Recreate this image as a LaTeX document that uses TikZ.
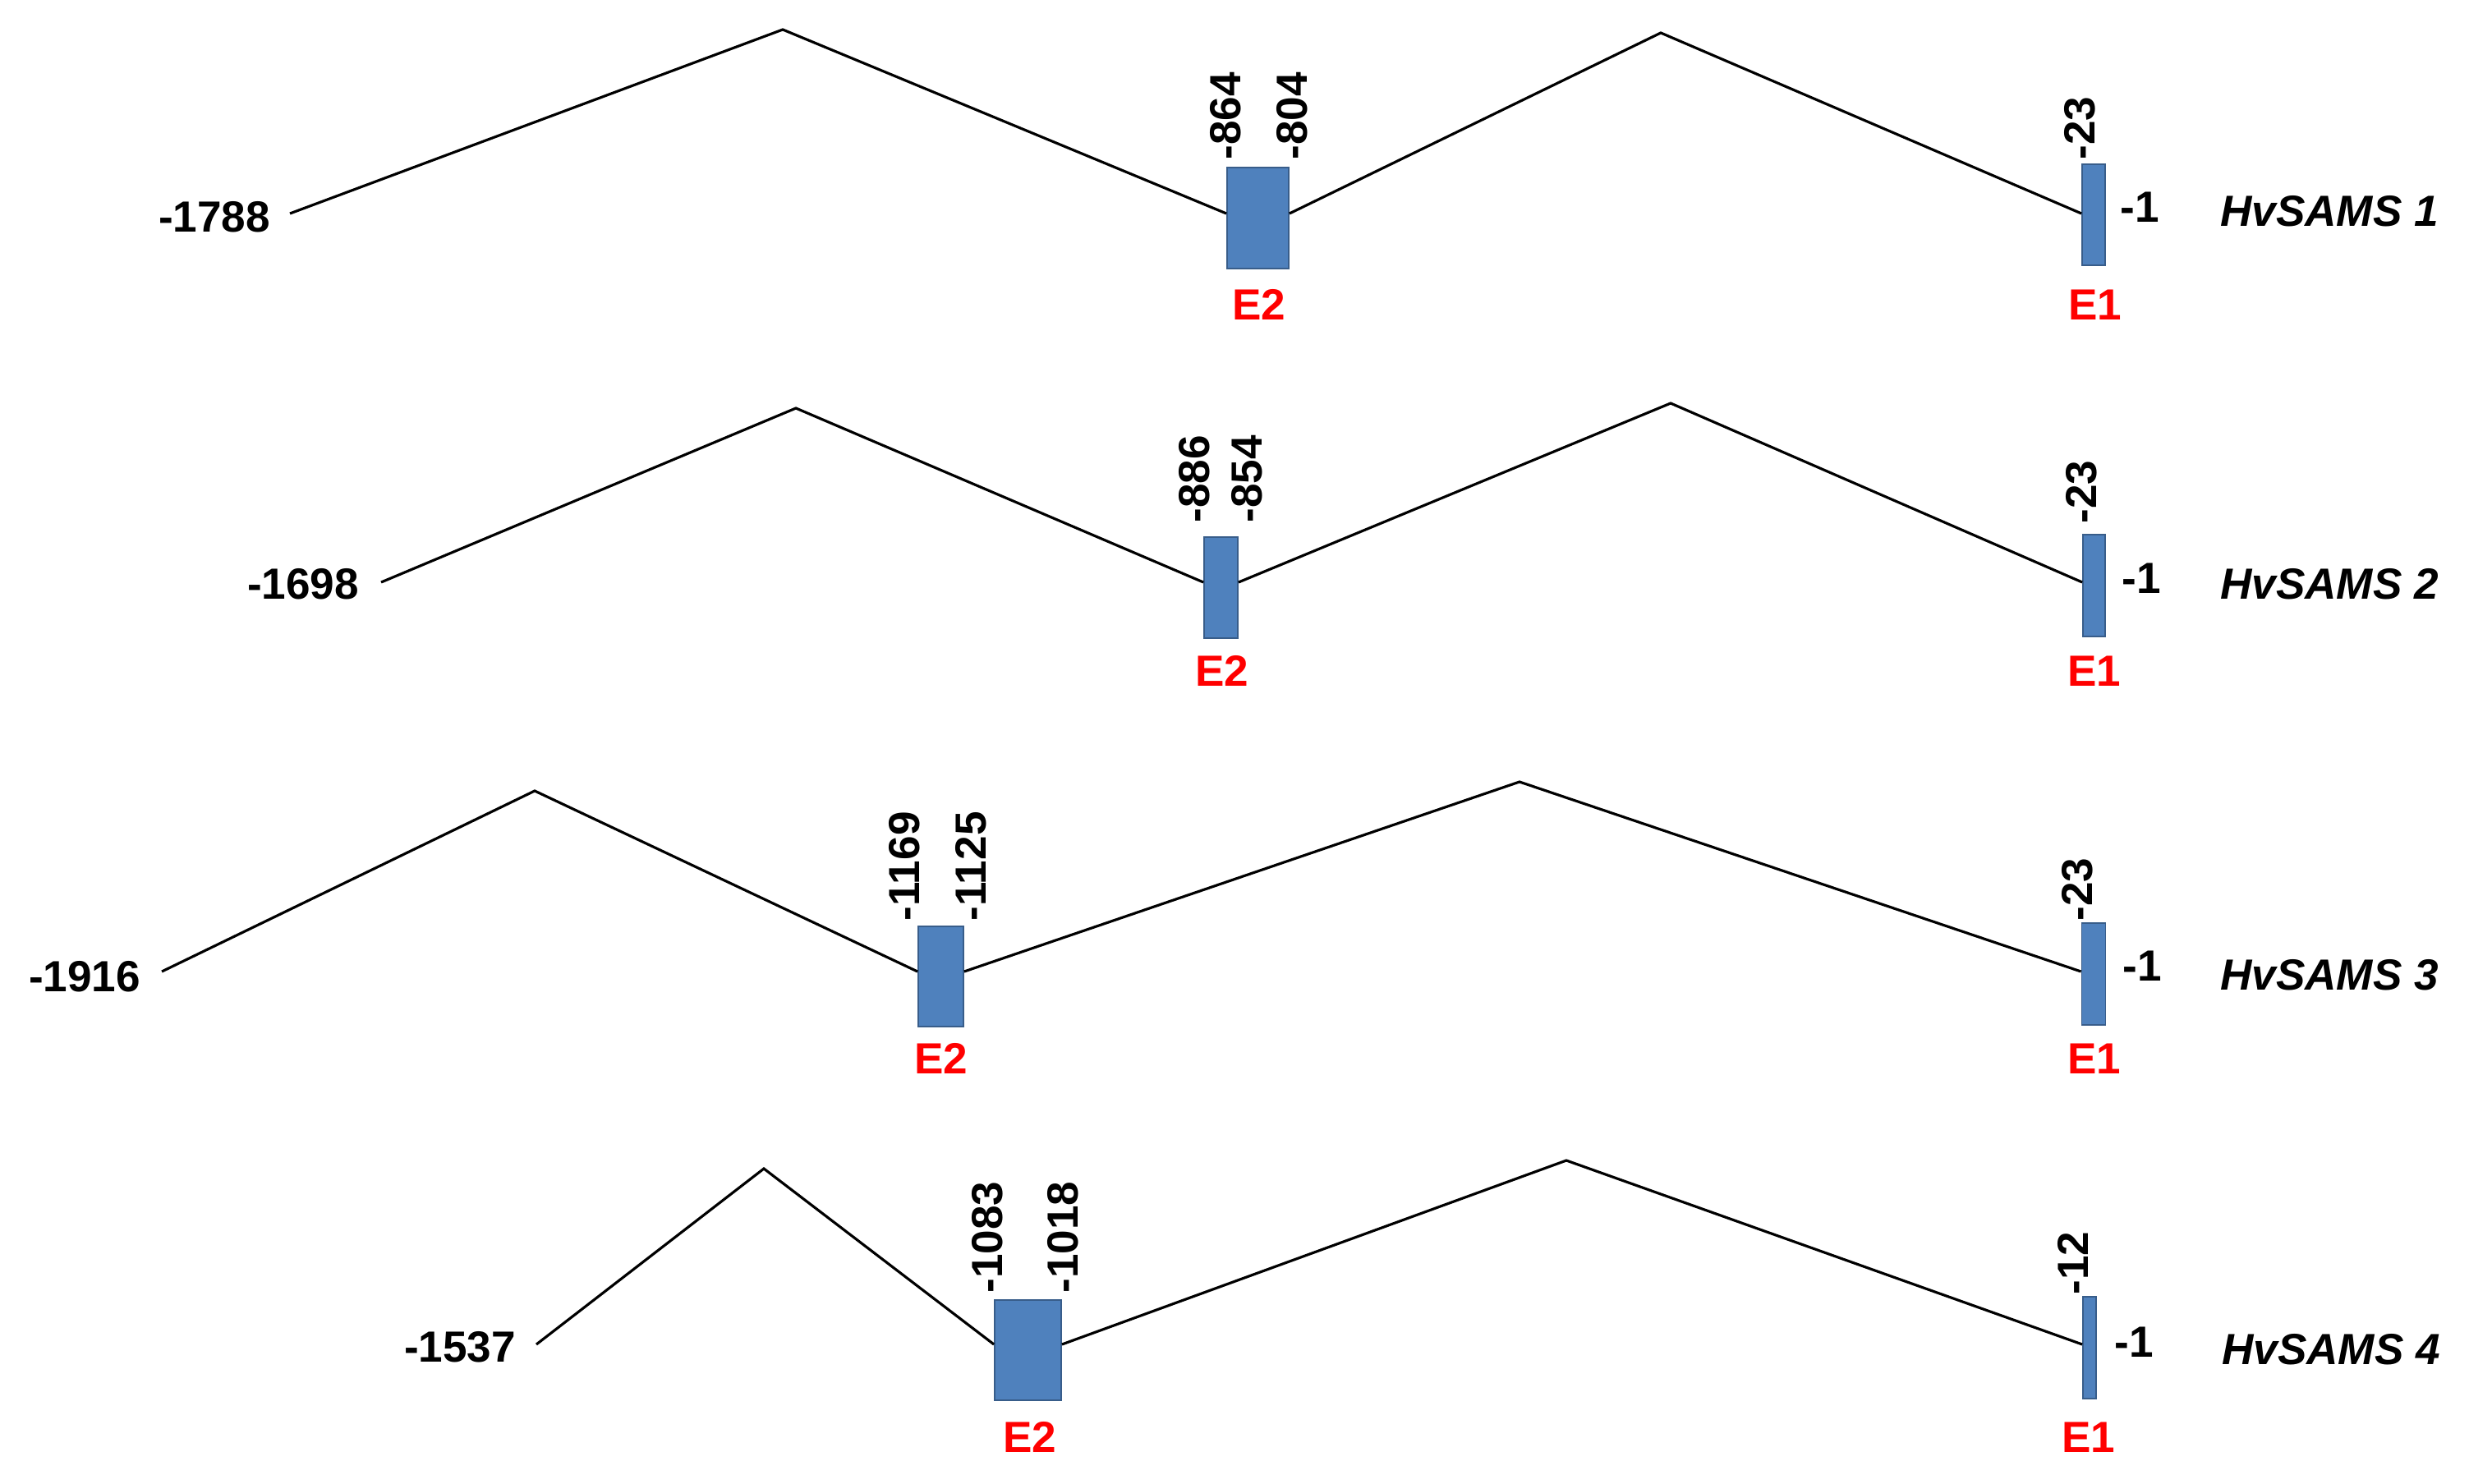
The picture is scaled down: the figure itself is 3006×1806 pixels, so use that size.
\documentclass[tikz,border=0pt]{standalone}
\usepackage{fontspec}
\setmainfont{Liberation Sans}
\definecolor{exonblue}{RGB}{79,129,189}
\definecolor{exonedge}{RGB}{56,93,138}
\begin{document}
\begin{tikzpicture}[x=0.01cm,y=-0.01cm,
  every node/.style={inner sep=0pt, font=\fontsize{15.1}{18}\selectfont\bfseries},
  exon/.style={draw=exonedge, fill=exonblue, line width=0.5pt, rectangle},
  intron/.style={line width=0.9pt, line join=miter},
  poslab/.style={rotate=90, anchor=west},
  elab/.style={text=red},
  gname/.style={font=\fontsize{15.1}{18}\selectfont\bfseries\itshape}]
\useasboundingbox (0,0) rectangle (3006,1806);

% ---------- HvSAMS 1 ----------
\node[exon, minimum width=0.75cm, minimum height=1.23cm] (a2) at (1531.5,265.5) {};
\node[exon, minimum width=0.28cm, minimum height=1.23cm] (a1) at (2549,261.5) {};
\coordinate (as) at (353,260);
\coordinate (ap) at (953,36);
\coordinate (aq) at (2022,40);
\draw[intron] (as) -- (ap) -- (a2.west |- as);
\draw[intron] (a2.east |- as) -- (aq) -- (a1.west |- as);
\node (al) at (261,264) {-1788};
\node[poslab] (ab1) at (1492,195) {-864};
\node[poslab] (ab2) at (1573,195) {-804};
\node[poslab] (ab3) at (2532,195) {-23};
\node (aend) at (2605,252) {-1};
\node[gname] (an) at (2836,257) {HvSAMS 1};
\node[elab] (ae2) at (1533,371) {E2};
\node[elab] (ae1) at (2551,371) {E1};

% ---------- HvSAMS 2 ----------
\node[exon, minimum width=0.41cm, minimum height=1.23cm] (b2) at (1486.5,715.5) {};
\node[exon, minimum width=0.27cm, minimum height=1.24cm] (b1) at (2549.5,713) {};
\coordinate (bs) at (464,709);
\coordinate (bp) at (969,497);
\coordinate (bq) at (2034,491);
\draw[intron] (bs) -- (bp) -- (b2.west |- bs);
\draw[intron] (b2.east |- bs) -- (bq) -- (b1.west |- bs);
\node (bl) at (369,711) {-1698};
\node[poslab] (bb1) at (1454,637) {-886};
\node[poslab] (bb2) at (1518,637) {-854};
\node[poslab] (bb3) at (2534,638) {-23};
\node (bend) at (2607,704) {-1};
\node[gname] (bn) at (2836,711) {HvSAMS 2};
\node[elab] (be2) at (1488,817) {E2};
\node[elab] (be1) at (2550,817) {E1};

% ---------- HvSAMS 3 ----------
\node[exon, minimum width=0.55cm, minimum height=1.22cm] (c2) at (1145.5,1189) {};
\node[exon, minimum width=0.29cm, minimum height=1.24cm] (c1) at (2549,1186) {};
\coordinate (cs) at (197,1183);
\coordinate (cp) at (651,963);
\coordinate (cq) at (1850,952);
\draw[intron] (cs) -- (cp) -- (c2.west |- cs);
\draw[intron] (c2.east |- cs) -- (cq) -- (c1.west |- cs);
\node (cl) at (103,1189) {-1916};
\node[poslab] (cb1) at (1101,1122) {-1169};
\node[poslab] (cb2) at (1182,1122) {-1125};
\node[poslab] (cb3) at (2529,1122) {-23};
\node (cend) at (2608,1176) {-1};
\node[gname] (cn) at (2836,1187) {HvSAMS 3};
\node[elab] (ce2) at (1146,1289) {E2};
\node[elab] (ce1) at (2550,1289) {E1};

% ---------- HvSAMS 4 ----------
\node[exon, minimum width=0.81cm, minimum height=1.22cm] (d2) at (1251.5,1644) {};
\node[exon, minimum width=0.16cm, minimum height=1.24cm] (d1) at (2544,1641) {};
\coordinate (ds) at (653,1637);
\coordinate (dp) at (930,1423);
\coordinate (dq) at (1907,1413);
\draw[intron] (ds) -- (dp) -- (d2.west |- ds);
\draw[intron] (d2.east |- ds) -- (dq) -- (d1.west |- ds);
\node (dl) at (560,1640) {-1537};
\node[poslab] (db1) at (1202,1575) {-1083};
\node[poslab] (db2) at (1294,1575) {-1018};
\node[poslab] (db3) at (2524,1577) {-12};
\node (dend) at (2598,1634) {-1};
\node[gname] (dn) at (2838,1643) {HvSAMS 4};
\node[elab] (de2) at (1254,1750) {E2};
\node[elab] (de1) at (2543,1750) {E1};
\end{tikzpicture}
\end{document}
